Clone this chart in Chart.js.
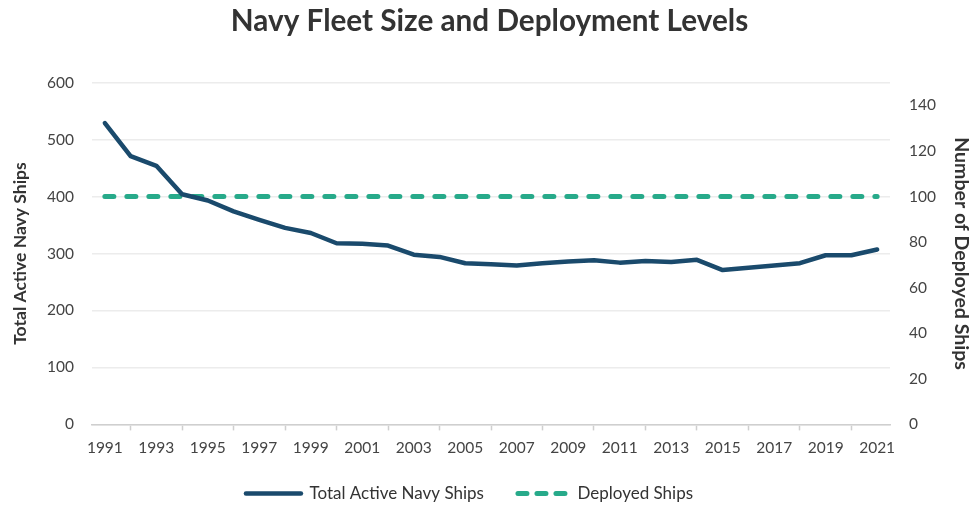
<!DOCTYPE html>
<html lang="en">
<head>
    <meta charset="UTF-8">
    <title>Navy Fleet Size and Deployment Levels</title>
    <style>
        html, body { margin: 0; padding: 0; background: #fff; }
        #wrap { width: 979px; height: 506px; }
    </style>
</head>
<body>
    <div id="wrap"><canvas id="fleetChart"></canvas></div>

    <script src="https://cdn.jsdelivr.net/npm/chart.js"></script>
    <script>
        // years 1991..2021
        const years = ["1991","1992","1993","1994","1995","1996","1997","1998","1999","2000",
                       "2001","2002","2003","2004","2005","2006","2007","2008","2009","2010",
                       "2011","2012","2013","2014","2015","2016","2017","2018","2019","2020","2021"];
        // total active ships (left axis)
        const totalShips = [529, 471, 454, 404, 393, 374, 359, 345, 336, 318,
                            317, 314, 298, 294, 283, 281, 279, 283, 286, 288,
                            284, 287, 285, 289, 271, 275, 279, 283, 297, 297, 307];
        // deployed ships (right axis)
        const deployedShips = [100, 100, 100, 100, 100, 100, 100, 100, 100, 100,
                               100, 100, 100, 100, 100, 100, 100, 100, 100, 100,
                               100, 100, 100, 100, 100, 100, 100, 100, 100, 100, 100];

        const leftTickValues = [0, 100, 200, 300, 400, 500, 600];
        const rightTickValues = [0, 20, 40, 60, 80, 100, 120, 140];
        const rightMax = 150;

        const FONT = "Lato, 'Open Sans', sans-serif";
        const NAVY = "#1a4a6c";
        const TEAL = "#27aa8a";

        // the reference legend sits a bit left of centre
        const legendShift = {
            id: "legendShift",
            afterLayout(chart) {
                chart.legend.left -= 20;
                chart.legend.right -= 20;
            }
        };

        new Chart(document.getElementById("fleetChart"), {
            type: "line",
            data: {
                labels: years,
                datasets: [
                    {
                        label: "Total Active Navy Ships",
                        data: totalShips,
                        yAxisID: "y",
                        borderColor: NAVY,
                        backgroundColor: NAVY,
                        borderWidth: 4.5,
                        borderCapStyle: "round",
                        borderJoinStyle: "round",
                        pointRadius: 0,
                        tension: 0
                    },
                    {
                        label: "Deployed Ships",
                        data: deployedShips,
                        yAxisID: "y1",
                        borderColor: TEAL,
                        backgroundColor: TEAL,
                        borderWidth: 5,
                        borderDash: [9, 13],
                        borderCapStyle: "round",
                        pointRadius: 0
                    }
                ]
            },
            plugins: [legendShift],
            options: {
                responsive: true,
                maintainAspectRatio: false,
                animation: false,
                layout: { padding: { left: 0, right: 0, top: 4, bottom: -6 } },
                plugins: {
                    title: {
                        display: true,
                        text: "Navy Fleet Size and Deployment Levels",
                        color: "#333",
                        font: { family: FONT, size: 29.7, weight: "bold" },
                        padding: { top: 0, bottom: 43 }
                    },
                    legend: {
                        position: "bottom",
                        labels: {
                            usePointStyle: true,
                            pointStyle: "line",
                            pointStyleWidth: 55,
                            color: "#333",
                            font: { family: FONT, size: 17 },
                            padding: 30,
                            generateLabels(chart) {
                                const items = Chart.defaults.plugins.legend.labels.generateLabels(chart);
                                items.forEach((item) => {
                                    const ds = chart.data.datasets[item.datasetIndex];
                                    item.lineCap = "round";
                                    if (ds.borderDash) {
                                        item.lineDash = [9, 10];
                                        item.lineDashOffset = -4;
                                    }
                                });
                                return items;
                            }
                        }
                    },
                    tooltip: { enabled: false }
                },
                scales: {
                    x: {
                        type: "category",
                        offset: true,
                        afterFit(scale) { scale.height = 30.6; },
                        grid: {
                            offset: false,
                            drawOnChartArea: false,
                            drawTicks: true,
                            tickLength: 6,
                            tickWidth: 1.5,
                            tickColor: (ctx) => (ctx.index % 2 === 1 ? "#cfcfcf" : "rgba(0,0,0,0)")
                        },
                        border: { color: "#cfcfcf", width: 1.5 },
                        ticks: {
                            autoSkip: false,
                            maxRotation: 0,
                            color: "#444",
                            padding: 8,
                            font: { family: FONT, size: 15.5 },
                            callback: function (value, index) {
                                return index % 2 === 0 ? this.getLabelForValue(value) : "";
                            }
                        }
                    },
                    y: {
                        position: "left",
                        min: leftTickValues[0],
                        max: leftTickValues[leftTickValues.length - 1],
                        afterFit(scale) { scale.width = 92; },
                        afterBuildTicks(scale) { scale.ticks = leftTickValues.map((v) => ({ value: v })); },
                        grid: { color: "#ececec", lineWidth: 1.5, drawTicks: false },
                        border: { display: false },
                        ticks: {
                            color: "#444",
                            padding: 18,
                            font: { family: FONT, size: 15.5 }
                        },
                        title: {
                            display: true,
                            text: "Total Active Navy Ships",
                            color: "#333",
                            font: { family: FONT, size: 17.5, weight: "bold" },
                            padding: { top: 9.5, bottom: 0 }
                        }
                    },
                    y1: {
                        position: "right",
                        min: 0,
                        max: rightMax,
                        afterFit(scale) { scale.width = 89; },
                        afterBuildTicks(scale) { scale.ticks = rightTickValues.map((v) => ({ value: v })); },
                        grid: { drawOnChartArea: false, drawTicks: false },
                        border: { display: false },
                        ticks: {
                            color: "#444",
                            padding: 19,
                            font: { family: FONT, size: 15.5 }
                        },
                        title: {
                            display: true,
                            text: "Number of Deployed Ships",
                            color: "#333",
                            font: { family: FONT, size: 19.5, weight: "bold" },
                            padding: { top: 6, bottom: 0 }
                        }
                    }
                }
            }
        });
    </script>
</body>
</html>
